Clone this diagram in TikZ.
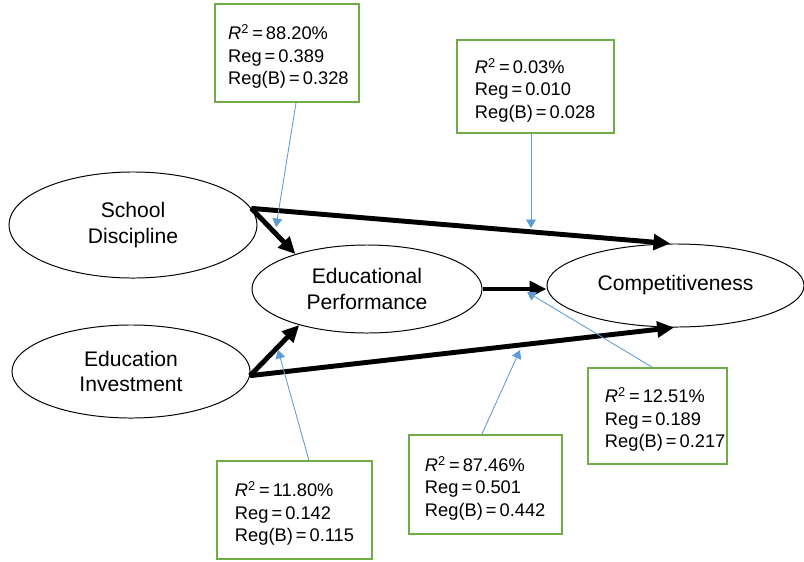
\documentclass[tikz,border=0pt]{standalone}
\usepackage{fontspec}
\setmainfont{Liberation Sans}
\usetikzlibrary{shapes.geometric,arrows.meta}
\definecolor{boxgreen}{RGB}{112,173,71}
\definecolor{linkblue}{RGB}{91,155,213}

\tikzset{
  construct/.style={draw, ellipse, line width=0.7pt, inner sep=0pt, align=center,
    font=\fontsize{15}{18}\selectfont},
  statbox/.style={draw=boxgreen, line width=1.4pt, align=left, inner ysep=0pt,
    font=\fontsize{13}{16}\selectfont},
  effect/.style={line width=3.5pt, -{Triangle[length=12pt,width=11pt]}},
  moderator/.style={linkblue, line width=0.6pt, -{Triangle[length=6pt,width=7pt]}}
}
\newcommand{\statlines}[3]{\rule{0pt}{16pt}\textit{R}\textsuperscript{2}\,=\,#1\%\\Reg\,=\,#2\\Reg(B)\,=\,#3}

\begin{document}
\begin{tikzpicture}[x=0.025cm, y=-0.025cm]
  \useasboundingbox (0,0) rectangle (804,561);
  % Constructs
  \node[construct, minimum width=6.2cm, minimum height=2.65cm] (sd) at (133,225) {School\\Discipline};
  \node[construct, minimum width=5.95cm, minimum height=2.325cm] (ei) at (131,371.5) {Education\\Investment};
  \node[construct, minimum width=5.75cm, minimum height=2.2cm] (ep) at (367,289) {Educational\\Performance};
  \node[construct, minimum width=6.425cm, minimum height=2.075cm] (comp) at (675.5,285.5) {Competitiveness};
  % Paths
  \draw[effect] (sd.8) -- (ep.154);
  \draw[effect] (sd.8) -- (comp.97);
  \draw[effect] (ep.east) -- (ep.east -| comp.west);
  \draw[effect] (ei.-2) -- (ep.208);
  \draw[effect] (ei.-2) -- (comp.268);
  % Statistics boxes
  \node[statbox, text width=2.94cm, inner xsep=0.33cm, minimum height=2.45cm] (b1) at (287,53) {\statlines{88.20}{0.389}{0.328}};
  \node[statbox, text width=3.025cm, inner xsep=0.45cm, minimum height=2.325cm] (b2) at (535.5,86.5) {\statlines{0.03}{0.010}{0.028}};
  \node[statbox, text width=2.625cm, inner xsep=0.425cm, minimum height=2.4cm] (b3) at (657.5,416) {\statlines{12.51}{0.189}{0.217}};
  \node[statbox, text width=2.975cm, inner xsep=0.45cm, minimum height=2.45cm] (b4) at (294.5,510) {\statlines{11.80}{0.142}{0.115}};
  \node[statbox, text width=3.025cm, inner xsep=0.4cm, minimum height=2.475cm] (b5) at (485.5,484.5) {\statlines{87.46}{0.501}{0.442}};
  % Pointers onto the paths
  \coordinate (t1) at (276,227);
  \coordinate (t2) at (531,228);
  \coordinate (t3) at (527,292);
  \coordinate (t4) at (278,350);
  \coordinate (t5) at (520,350);
  \draw[moderator] ([xshift=0.225cm]b1.south) -- (t1);
  \draw[moderator] (b2.south -| t2) -- (t2);
  \draw[moderator] ([xshift=-0.14cm]b3.north) -- (t3);
  \draw[moderator] ([xshift=0.36cm]b4.north) -- (t4);
  \draw[moderator] ([xshift=-0.09cm]b5.north) -- (t5);
\end{tikzpicture}
\end{document}
